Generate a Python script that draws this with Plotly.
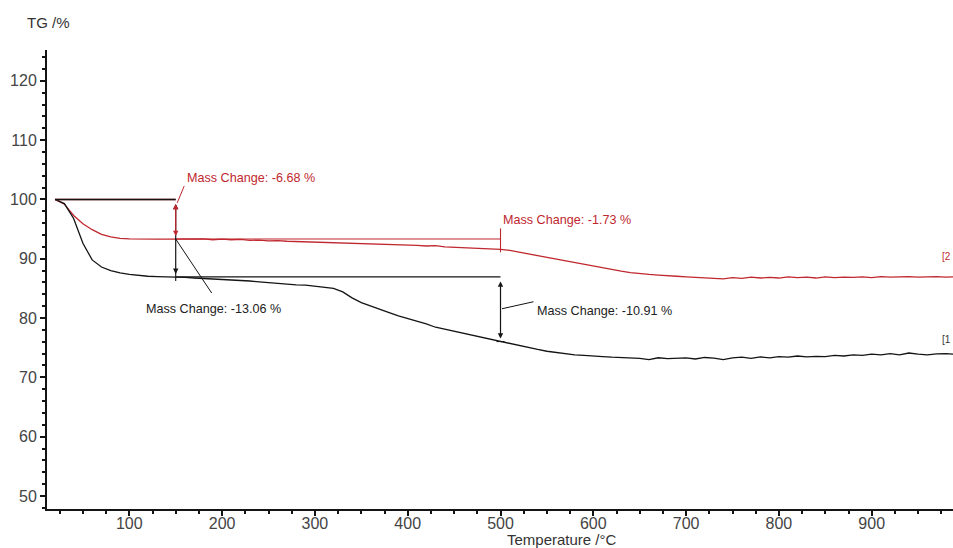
import plotly.graph_objects as go

# Sample temperatures (°C)
temperature = [
    20, 30, 40, 50, 60, 70, 80, 90, 100, 110,
    120, 130, 140, 150, 160, 170, 180, 190, 200, 210,
    220, 230, 240, 250, 260, 270, 280, 290, 300, 310,
    320, 330, 340, 350, 360, 370, 380, 390, 400, 410,
    420, 430, 440, 450, 460, 470, 480, 490, 500, 510,
    520, 530, 540, 550, 560, 570, 580, 590, 600, 610,
    620, 630, 640, 650, 660, 670, 680, 690, 700, 710,
    720, 730, 740, 750, 760, 770, 780, 790, 800, 810,
    820, 830, 840, 850, 860, 870, 880, 890, 900, 910,
    920, 930, 940, 950, 960, 970, 980, 990,
]

# TG curve [1] (%)
tg_1 = [
    100.0, 99.3, 96.8, 92.6, 89.8, 88.6, 88.0, 87.6, 87.35, 87.15,
    87.05, 86.98, 86.95, 86.94, 86.85, 86.75, 86.68, 86.6, 86.5, 86.45,
    86.3, 86.25, 86.1, 85.95, 85.9, 85.75, 85.6, 85.55, 85.4, 85.2,
    85.0, 84.4, 83.4, 82.6, 82.0, 81.4, 80.9, 80.35, 79.9, 79.5,
    79.0, 78.45, 78.1, 77.8, 77.45, 77.05, 76.7, 76.4, 76.03, 75.7,
    75.3, 75.0, 74.7, 74.4, 74.2, 73.95, 73.8, 73.7, 73.55, 73.5,
    73.4, 73.35, 73.3, 73.2, 73.0, 73.3, 73.15, 73.2, 73.3, 73.1,
    73.35, 73.25, 73.0, 73.3, 73.4, 73.2, 73.45, 73.3, 73.5, 73.4,
    73.6, 73.45, 73.55, 73.5, 73.7, 73.6, 73.8, 73.7, 73.9, 73.8,
    74.0, 73.8, 74.1, 73.9, 73.8, 73.95, 74.0, 73.9,
]

# TG curve [2] (%)
tg_2 = [
    100.0, 99.2, 97.3, 95.9, 94.9, 94.1, 93.7, 93.45, 93.35, 93.3,
    93.3, 93.3, 93.32, 93.32, 93.3, 93.4, 93.35, 93.2, 93.3, 93.2,
    93.25, 93.1, 93.15, 93.0, 93.05, 92.95, 92.9, 92.95, 92.8, 92.85,
    92.7, 92.75, 92.6, 92.65, 92.55, 92.5, 92.4, 92.45, 92.3, 92.25,
    92.15, 92.2, 92.0, 91.95, 91.9, 91.8, 91.75, 91.65, 91.59, 91.4,
    91.1, 90.85, 90.6, 90.3, 89.95, 89.65, 89.3, 89.0, 88.7, 88.4,
    88.1, 87.9, 87.65, 87.45, 87.35, 87.25, 87.2, 87.05, 86.95, 86.85,
    86.8, 86.75, 86.6, 86.8, 86.7, 86.9, 86.75, 86.85, 86.75, 86.95,
    86.8, 86.9, 86.75, 86.95, 86.8, 86.9, 86.85, 86.95, 86.8, 87.0,
    86.9, 86.95, 87.0, 86.9, 86.95, 87.0, 86.9, 86.95,
]

# Evaluated mass-change steps
step_temps = [20, 150, 500]
start_level = 100.0
mass_change_1 = [-13.06, -10.91]
mass_change_2 = [-6.68, -1.73]

x_ticks = [100, 200, 300, 400, 500, 600, 700, 800, 900]
y_ticks = [50, 60, 70, 80, 90, 100, 110, 120]

RED = "#c0282f"
BLACK = "#141414"
FONT = "Liberation Sans, Arial, sans-serif"

level_1a = start_level + mass_change_1[0]
level_1b = level_1a + mass_change_1[1]
level_2a = start_level + mass_change_2[0]
level_2b = level_2a + mass_change_2[1]
t0, t1, t2 = step_temps

fig = go.Figure()
fig.add_trace(go.Scatter(x=temperature, y=tg_2, mode="lines",
                         line=dict(color=RED, width=1.3), name="[2]"))
fig.add_trace(go.Scatter(x=temperature, y=tg_1, mode="lines",
                         line=dict(color=BLACK, width=1.3), name="[1]"))

shapes = []


def seg(xa, ya, xb, yb, color, width=1.0):
    shapes.append(dict(type="line", xref="x", yref="y", x0=xa, y0=ya, x1=xb, y1=yb,
                       line=dict(color=color, width=width), layer="above"))


def pix_seg(xa, ya, dx0, dy0, dx1, dy1, color, width=1.0):
    shapes.append(dict(type="line", xref="x", yref="y",
                       xsizemode="pixel", ysizemode="pixel",
                       xanchor=xa, yanchor=ya,
                       x0=dx0, y0=dy0, x1=dx1, y1=dy1,
                       line=dict(color=color, width=width), layer="above"))


# Baseline levels before each step
seg(t0, start_level, t1, start_level, RED, 1.6)
seg(t0, start_level, t1, start_level, BLACK, 1.4)
seg(t1, level_2a, t2, level_2a, RED, 1.1)
seg(t1, level_1a, t2, level_1a, BLACK, 1.1)

# Marker at the second red step
seg(t2, level_2b - 0.5, t2, level_2a + 1.8, RED, 1.1)
# Short ticks at step ends
pix_seg(t1, level_1a, 0, -4, 0, 5, BLACK, 1.1)
pix_seg(t2, level_1b, -4, 0, 4, 0, BLACK, 1.0)

# Leader lines to the labels
pix_seg(t1, start_level, 1.5, -3.5, 8.5, 13.5, RED, 1.0)
pix_seg(t1, level_2a, 0, 0, 36, -54, BLACK, 1.0)
mid_1b = (level_1a + level_1b) / 2
pix_seg(t2, mid_1b, 1.5, 0.5, 33, 7.5, BLACK, 1.0)

annotations = []


def double_arrow(x, y_from, y_to, color):
    annotations.append(dict(
        x=x, y=y_to, ax=x, ay=y_from, xref="x", yref="y", axref="x", ayref="y",
        text="", showarrow=True, arrowside="end+start",
        arrowhead=2, startarrowhead=2, arrowsize=0.9, startarrowsize=0.9,
        arrowwidth=1.2, arrowcolor=color, standoff=3, startstandoff=3))


double_arrow(t1, start_level, level_1a, BLACK)
double_arrow(t1, start_level, level_2a, RED)
double_arrow(t2, level_1a, level_1b, BLACK)


def label(x, y, text, color, xshift, yshift, xanchor="left"):
    annotations.append(dict(
        x=x, y=y, xref="x", yref="y", text=text, showarrow=False,
        xanchor=xanchor, yanchor="middle", xshift=xshift, yshift=yshift,
        font=dict(family=FONT, size=12.6, color=color)))


label(t1, start_level, f"Mass Change: {mass_change_2[0]:.2f} %", RED, 9, 21)
label(t1, level_1a, f"Mass Change: {mass_change_1[0]:.2f} %", "#222222", 38, -32.5, "center")
label(t2, level_2a, f"Mass Change: {mass_change_2[1]:.2f} %", RED, 0, 19)
label(t2, mid_1b, f"Mass Change: {mass_change_1[1]:.2f} %", "#222222", 34, -1.5)

# Curve identifiers at the right edge
annotations.append(dict(x=1.0, xref="paper", y=tg_2[-1], yref="y", yshift=20,
                        text="[2", showarrow=False, xanchor="right", yanchor="middle",
                        font=dict(family=FONT, size=10, color=RED)))
annotations.append(dict(x=1.0, xref="paper", y=tg_1[-1], yref="y", yshift=15,
                        text="[1", showarrow=False, xanchor="right", yanchor="middle",
                        font=dict(family=FONT, size=10, color="#333333")))

# Axis titles
annotations.append(dict(x=-0.0243, xref="paper", y=1.061, yref="paper", text="TG /%",
                        showarrow=False, xanchor="left", yanchor="middle",
                        font=dict(family=FONT, size=15, color="#333333")))
annotations.append(dict(x=0.5684, xref="paper", y=-0.0865, yref="paper",
                        text="Temperature /°C", showarrow=False,
                        xanchor="center", yanchor="bottom", borderpad=0,
                        font=dict(family=FONT, size=15, color="#333333")))

axis_common = dict(
    showline=True, linecolor=BLACK, linewidth=2, mirror=False,
    ticks="outside", ticklen=5, tickwidth=1.5, tickcolor=BLACK,
    showgrid=False, zeroline=False,
    tickfont=dict(family=FONT, size=16, color="#444444"),
)

fig.update_layout(
    width=953, height=548,
    margin=dict(l=47, r=0, t=50, b=39, pad=0),
    paper_bgcolor="white", plot_bgcolor="white",
    showlegend=False,
    shapes=shapes, annotations=annotations,
    xaxis=dict(range=[11.3, 987.6], tickvals=x_ticks, ticklabelstandoff=-6,
               minor=dict(dtick=25, tick0=0, ticks="outside", ticklen=3,
                          tickwidth=1.5, tickcolor=BLACK, showgrid=False),
               **axis_common),
    yaxis=dict(range=[47.8, 125.2], tickvals=y_ticks,
               minor=dict(dtick=2, tick0=0, ticks="outside", ticklen=3,
                          tickwidth=1.5, tickcolor=BLACK, showgrid=False),
               **axis_common),
)

fig.write_html("out.html")
